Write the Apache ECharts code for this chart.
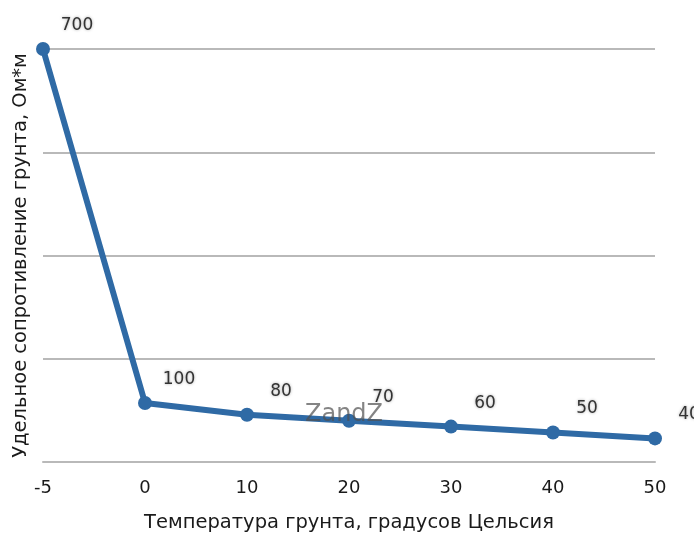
<!DOCTYPE html>
<html>
<head>
<meta charset="utf-8">
<script src="https://cdn.jsdelivr.net/npm/echarts@6/dist/echarts.min.js"></script>
<style>
  html, body { margin: 0; padding: 0; background: #fff; }
  #chart { width: 694px; height: 533px; }
</style>
</head>
<body>
<div id="chart"></div>
<script>
// Soil temperature (°C) and resistivity (Ohm*m)
const temperatures = ['-5', '0', '10', '20', '30', '40', '50'];
const resistivity = [700, 100, 80, 70, 60, 50, 40];
const xTitle = 'Температура грунта, градусов Цельсия';
const yTitle = 'Удельное сопротивление грунта, Ом*м';

const FONT = '"DejaVu Sans", Verdana, sans-serif';
const chart = echarts.init(document.getElementById('chart'), null, { renderer: 'canvas' });

chart.setOption({
  animation: false,
  backgroundColor: '#ffffff',
  grid: {
    left: 43, right: 39, top: 49, bottom: 71,
    containLabel: false,
    outerBoundsMode: 'none'
  },
  xAxis: {
    type: 'category',
    data: temperatures,
    boundaryGap: false,
    name: xTitle,
    nameLocation: 'middle',
    nameGap: 51,
    nameTextStyle: { fontFamily: FONT, fontSize: 19.5, color: '#1a1a1a' },
    axisLine: { show: true, lineStyle: { color: '#b9b9b9', width: 2 } },
    axisTick: { show: false },
    axisLabel: { fontFamily: FONT, fontSize: 18, color: '#1a1a1a', margin: 17 }
  },
  yAxis: {
    type: 'value',
    min: 0,
    max: 700,
    interval: 175,
    name: yTitle,
    nameLocation: 'middle',
    nameGap: 12,
    nameTextStyle: { fontFamily: FONT, fontSize: 19.5, color: '#1a1a1a' },
    axisLine: { show: false },
    axisTick: { show: false },
    axisLabel: { show: false },
    splitLine: { show: true, lineStyle: { color: '#b9b9b9', width: 2 } }
  },
  series: [{
    type: 'line',
    data: resistivity,
    symbol: 'circle',
    symbolSize: 14,
    lineStyle: { color: '#2f6aa5', width: 6 },
    itemStyle: { color: '#2f6aa5' },
    label: {
      show: true,
      position: 'top',
      offset: [34, -3],
      fontFamily: FONT,
      fontSize: 17,
      color: '#333333',
      textShadowColor: 'rgba(0,0,0,0.35)',
      textShadowBlur: 3
    },
    z: 3
  }],
  graphic: [{
    type: 'text',
    left: 305,
    top: 403,
    z: 10,
    style: {
      text: 'ZandZ',
      fontFamily: FONT,
      fontSize: 24,
      fill: 'rgba(80,80,80,0.7)'
    }
  }]
});
</script>
</body>
</html>
